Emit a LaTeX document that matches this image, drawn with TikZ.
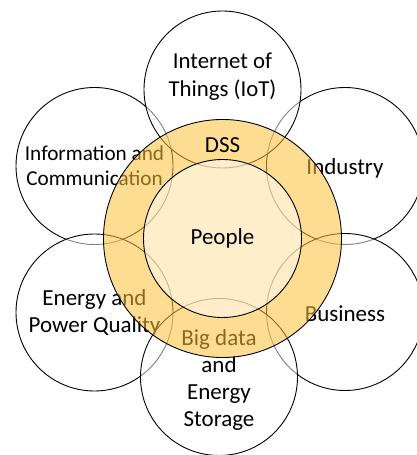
\documentclass[tikz,border=0pt]{standalone}
\usepackage{fontspec}
\setmainfont{Carlito}
\usepackage{tikz}
\usetikzlibrary{calc}
\definecolor{ringgold}{RGB}{253,193,58}
\newcommand{\petal}[3]{\node[petal] (#1) at (#2,#3) {};}

\begin{document}
\begin{tikzpicture}[x=1pt,y=1pt,
    petal/.style={circle,draw,line width=0.9pt,fill=white,fill opacity=0.5,draw opacity=1,minimum size=157pt,inner sep=0pt},
    txt/.style={align=center,text opacity=1,font=\fontsize{23}{27}\selectfont}]
    \useasboundingbox (0,0) rectangle (416,455);
    %outer circles
    \petal{info}{94.5}{289}
    \petal{industry}{345}{289}
    \petal{iot}{222.5}{365.5}
    \petal{energy}{94.5}{142.5}
    \petal{business}{345}{143}
    \petal{storage}{219}{78}
    %labels
    \node[txt,font=\fontsize{21.2}{25}\selectfont] (infotxt) at (info) {Information and\\Communication};
    \node[txt] (industrytxt) at ($(industry)+(0,-2)$) {Industry};
    \node[txt,font=\fontsize{22.8}{28}\selectfont] (iottxt) at ($(iot)+(0,13)$) {Internet of\\Things (IoT)};
    \node[txt] (energytxt) at (energy) {Energy and\\Power Quality};
    \node[txt] (businesstxt) at ($(business)+(0,-2)$) {Business};
    \node[txt] (storagetxt) at ($(storage)+(0,-3)$) {Big data\\and\\Energy\\Storage};
    %ring and core
    \node[circle,draw,line width=0.9pt,fill=ringgold,fill opacity=0.55,draw opacity=1,minimum size=238pt,inner sep=0pt] (ring) at (222.5,216.5) {};
    \node[circle,draw,line width=0.9pt,fill=white,fill opacity=0.5,draw opacity=1,minimum size=158pt,inner sep=0pt,txt] (people) at (ring) {People};
    \node[txt] (dss) at ($(ring)+(0,93)$) {DSS};
\end{tikzpicture}
\end{document}
